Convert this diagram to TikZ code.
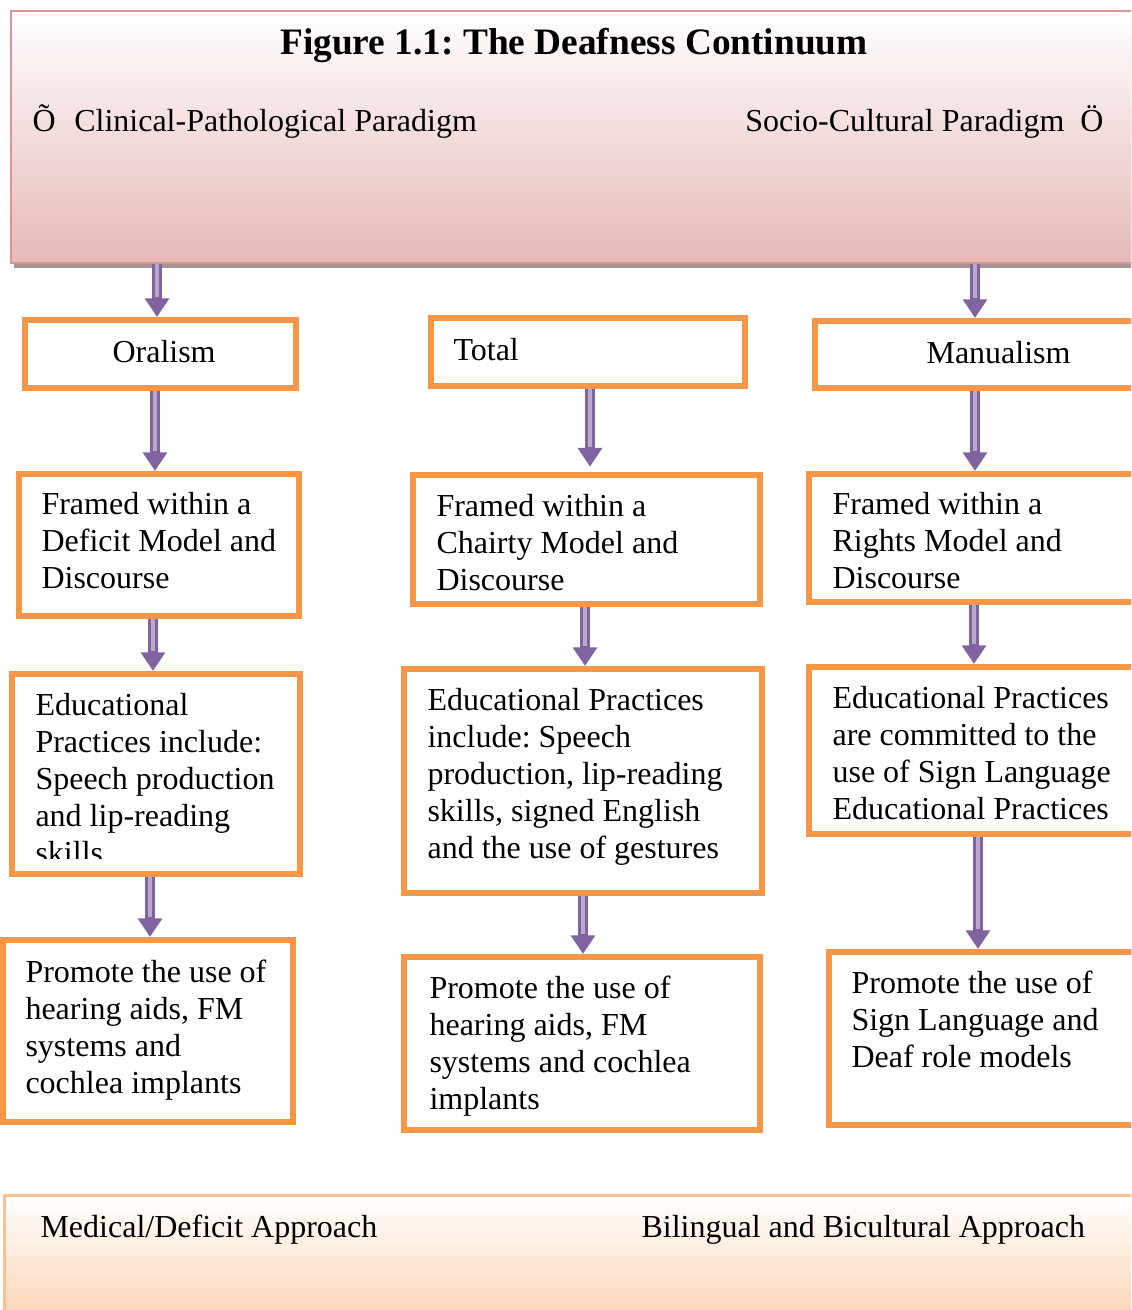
\documentclass[tikz,border=0pt]{standalone}
\usepackage{fontspec}
\setmainfont{Liberation Serif}
\frenchspacing
\usetikzlibrary{arrows.meta,fit}
\definecolor{boxorange}{HTML}{F79646}
\definecolor{flowpurple}{HTML}{8064A2}
\definecolor{bannerline}{HTML}{D99694}
\definecolor{bannerpink}{HTML}{E6B9B8}
\definecolor{bannershadow}{HTML}{A89494}
\definecolor{baseedge}{HTML}{FAC090}
\definecolor{basepeach}{HTML}{FBD4B4}
\newcommand{\boxfont}{\fontsize{12}{13.875}\selectfont}
\tikzset{
  stage/.style={draw=boxorange, line width=2.25pt, inner sep=0pt, fill=white},
  words/.style={anchor=base west, inner sep=0pt, text width=9cm, align=left, font=\boxfont,
    execute at begin node={\spaceskip=3pt plus 1pt\xspaceskip=3pt plus 1pt\relax}},
  pipe/.style={draw=flowpurple, line width=4.1pt, -{Triangle[width=8.8pt,length=7pt]},
    postaction={draw=flowpurple!55!white, line width=1.2pt, shorten >=7.5pt, -}},
}

\begin{document}
\begin{tikzpicture}[x=0.375pt, y=-0.375pt]
  \clip (0,0) rectangle (1131,1310);

  % top and bottom banners
  \fill[bannershadow] (14,16) rectangle (1145,268);
  \node[fit={(11,11) (1145,263)}, inner sep=0pt, draw=bannerline, line width=0.8pt,
    top color=white, bottom color=bannerpink] (paradigm) {};
  \node[anchor=base, inner sep=0pt, font=\fontsize{14}{16}\selectfont\bfseries] (title)
    at (574,55) {Figure 1.1: The Deafness Continuum};
  \node[words] (clinical) at (32,132) {Õ\hspace{7pt}Clinical-Pathological Paradigm};
  \node[anchor=base east, inner sep=0pt, font=\boxfont] (socio)
    at (1104,132) {Socio-Cultural Paradigm\hspace{6pt}Ö};

  \node[fit={(4.5,1195.5) (1145,1320)}, inner sep=0pt, draw=baseedge, line width=1.2pt,
    top color=white, bottom color=basepeach] (approach) {};
  \node[words] (medical) at (40,1237) {Medical/Deficit Approach};
  \node[words] (bilingual) at (641,1237) {Bilingual and Bicultural Approach};

  % first row
  \node[stage, fit={(25,320) (296,388)}] (oralism) {};
  \node[stage, fit={(431,318) (745,386)}] (total) {};
  \node[stage, fit={(815,321) (1145,388)}] (manualism) {};
  \node[words] (oralismT) at (112,363) {Oralism};
  \node[words] (totalT) at (453,361) {Total};
  \node[words] (manualismT) at (926,364) {Manualism};

  % second row
  \node[stage, fit={(19,474) (299,616)}] (deficit) {};
  \node[stage, fit={(413,475) (760,604)}] (charity) {};
  \node[stage, fit={(809,474) (1145,602)}] (rights) {};
  \node[words] (deficitT) at (41,515) {Framed within a\\Deficit Model and\\Discourse};
  \node[words] (charityT) at (436,517) {Framed within a\\Chairty Model and\\Discourse};
  \node[words] (rightsT) at (832,515) {Framed within a\\Rights Model and\\Discourse};

  % third row
  \node[stage, fit={(12,674) (300,874)}] (eduOral) {};
  \node[stage, fit={(404,669) (762,893)}] (eduTotal) {};
  \node[stage, fit={(809,667) (1145,834)}] (eduManual) {};
  \begin{scope}
    \clip (0,600) rectangle (400,858);
    \node[words] (eduOralT) at (35,715)
      {Educational\\Practices include:\\Speech production\\and lip-reading\\skills};
  \end{scope}
  \node[words] (eduTotalT) at (427,710)
    {Educational Practices\\include: Speech\\production, lip-reading\\skills, signed English\\and the use of gestures};
  \node[words] (eduManualT) at (832,708)
    {Educational Practices\\are committed to the\\use of Sign Language\\Educational Practices};

  % fourth row
  \node[stage, fit={(3,940) (293,1122)}] (aidsOral) {};
  \node[stage, fit={(404,957) (760,1130)}] (aidsTotal) {};
  \node[stage, fit={(829,952) (1145,1125)}] (signManual) {};
  \node[words] (aidsOralT) at (25,982)
    {Promote the use of\\hearing aids, FM\\systems and\\cochlea implants};
  \node[words] (aidsTotalT) at (429,998)
    {Promote the use of\\hearing aids, FM\\systems and cochlea\\implants};
  \node[words] (signManualT) at (851,993)
    {Promote the use of\\Sign Language and\\Deaf role models};

  % arrows
  \draw[pipe] (paradigm.south -| 157,0) -- (oralism.north -| 157,0);
  \draw[pipe] (paradigm.south -| 975,0) -- (manualism.north -| 975,0);
  \draw[pipe] (oralism.south -| 155,0) -- (deficit.north -| 155,0);
  \draw[pipe] (total.south -| 590,0) -- ([yshift=2pt]charity.north -| 590,0);
  \draw[pipe] (manualism.south -| 975,0) -- (rights.north -| 975,0);
  \draw[pipe] (deficit.south -| 153,0) -- (eduOral.north -| 153,0);
  \draw[pipe] (charity.south -| 585,0) -- (eduTotal.north -| 585,0);
  \draw[pipe] (rights.south -| 974,0) -- (eduManual.north -| 974,0);
  \draw[pipe] (eduOral.south -| 150,0) -- (aidsOral.north -| 150,0);
  \draw[pipe] (eduTotal.south -| 583,0) -- (aidsTotal.north -| 583,0);
  \draw[pipe] (eduManual.south -| 978,0) -- (signManual.north -| 978,0);
\end{tikzpicture}
\end{document}
